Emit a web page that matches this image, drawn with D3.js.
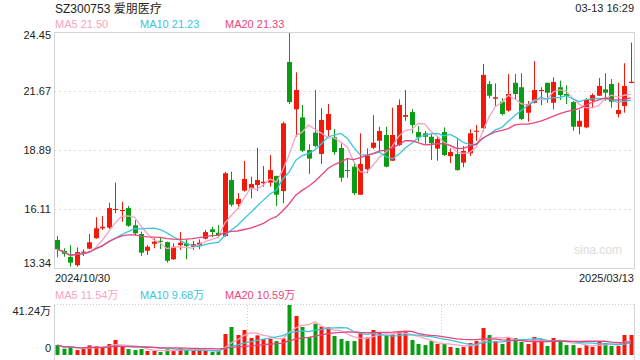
<!DOCTYPE html>
<html>
<head>
<meta charset="utf-8">
<script src="https://cdn.jsdelivr.net/npm/d3@7/dist/d3.min.js"></script>
<style>
  body { margin: 0; background: #fff; }
  svg { display: block; font-family: "Liberation Sans", Arial, "Noto Sans CJK SC", sans-serif; }
</style>
</head>
<body>
<div id="chart"></div>
<script>
// daily K line, 2024/10/30 .. 2025/03/13 (90 sessions)
const opens = [14.66,14.14,13.86,13.47,14.06,14.25,14.74,15.21,15.24,16.07, 16.02,16.16,15.35,14.94,14.15,14.48,14.62,14.56,13.75,14.42,
  14.50,14.34,14.41,14.72,15.16,15.00,14.85,17.48,16.35,16.98, 17.07,17.25,17.33,17.36,17.67,16.96,23.04,20.81,20.43,18.89,
  19.71,18.71,19.84,19.49,18.99,17.95,18.11,16.79,17.99,19.00, 19.33,19.60,18.39,19.13,20.46,20.68,19.74,19.68,19.52,18.96,
  19.74,18.61,18.71,18.30,18.74,19.78,19.92,22.00,21.31,21.17, 20.75,22.06,21.85,20.65,21.12,21.67,22.06,21.12,21.85,21.53,
  21.15,19.99,19.96,21.22,21.45,21.75,22.00,20.59,20.97,22.05];
const highs = [14.85,14.27,14.42,14.31,14.22,14.94,15.73,15.79,16.41,17.36, 16.46,16.26,15.60,15.05,14.42,14.74,14.77,14.58,14.50,15.03,
  14.69,14.62,14.69,15.13,15.28,15.36,17.87,17.87,16.86,18.38, 17.64,19.00,18.14,18.66,17.69,20.23,24.40,22.55,21.01,19.16,
  21.72,20.86,21.06,19.88,19.21,18.50,18.34,19.68,18.97,20.53, 19.99,19.99,20.89,21.28,21.72,20.82,20.02,19.79,19.65,19.55,
  19.96,18.97,19.40,19.08,19.87,20.07,22.94,22.14,22.03,21.33, 22.47,22.47,22.51,21.20,23.08,21.85,22.06,22.32,22.16,21.94,
  21.20,20.78,21.33,21.56,22.28,22.51,22.24,22.06,22.98,23.95];
const lows = [13.84,13.87,13.40,13.40,13.90,14.22,14.72,15.13,15.18,15.92, 15.52,15.28,14.85,13.90,13.95,14.27,14.23,13.59,13.72,14.19,
  13.75,14.19,14.22,14.69,14.79,14.74,14.81,16.23,16.12,16.93, 16.62,16.96,17.17,17.17,16.26,16.39,21.06,19.52,18.80,17.77,
  19.02,18.24,19.55,18.66,17.40,17.59,16.78,16.79,17.80,18.94, 18.81,18.08,18.38,19.08,20.27,19.68,19.29,19.18,18.42,18.39,
  18.61,18.27,17.92,18.08,18.61,19.33,19.76,21.33,20.97,20.53, 20.70,21.28,20.31,20.23,21.09,21.01,21.12,20.81,21.25,21.06,
  19.80,19.63,19.92,20.86,21.44,21.22,20.89,20.43,20.65,22.04];
const closes = [14.22,14.01,13.59,14.09,14.11,14.55,15.21,15.28,16.16,16.12, 16.07,15.33,14.97,14.06,14.34,14.58,14.60,13.68,14.34,14.53,
  14.38,14.46,14.53,15.03,15.03,14.88,17.80,16.32,16.59,17.53, 17.29,17.48,17.40,17.95,16.79,20.15,21.15,21.72,18.86,18.49,
  19.08,20.31,20.59,18.80,17.59,17.91,16.86,18.24,18.63,19.24, 19.79,18.11,19.60,21.01,20.54,20.07,19.49,19.52,19.21,19.41,
  18.66,18.80,17.95,18.85,19.68,19.80,22.43,21.45,21.38,20.59, 21.53,21.53,20.35,21.06,21.72,21.72,21.59,22.10,21.48,21.44,
  19.99,20.27,21.25,21.48,21.91,21.59,21.17,20.78,21.91,22.11];
// volume, 万手
const volumes = [8.2,5.2,6.6,4.1,4.9,8.0,7.2,6.3,9.1,12.4, 6.9,4.9,4.1,4.9,3.3,3.3,2.5,4.7,4.1,5.5,
  4.1,3.3,3.3,3.8,2.5,3.3,17.3,23.1,16.5,20.6, 14.0,16.2,13.2,13.2,11.5,13.7,41.24,32.2,23.1,14.6,
  25.8,23.4,22.8,15.7,13.2,11.5,11.5,17.3,14.6,20.6, 18.7,15.9,16.8,19.5,19.5,12.4,9.1,8.2,11.5,9.1,
  9.1,6.6,5.8,6.6,9.9,11.5,22.3,16.5,11.5,9.1, 14.0,14.0,10.7,9.1,14.8,13.2,7.4,14.0,11.5,8.2,
  8.2,5.8,8.2,6.6,11.5,9.9,7.4,7.4,16.5,16.5];

const priceTicks = [13.34, 16.11, 18.89, 21.67, 24.45];
const volTickLabels = ['0', '41.24万'];
const dateLabels = ['2024/10/30', '2025/03/13'];
const maPeriods = [5, 10, 20];
const maNames = ['MA5', 'MA10', 'MA20'];
const maPriceText = ['21.50', '21.23', '21.33'];
const maVolText = ['11.54万', '9.68万', '10.59万'];
const titleText = 'SZ300753 爱朋医疗';
const timeText = '03-13 16:29';

const maColors = ['#f7a3c3', '#3cc3de', '#e9457d'];
const upColor = '#f2180a', downColor = '#0a9d14';
const L = 54, R = 634;

const svg = d3.select('#chart').append('svg').attr('width', 640).attr('height', 360);

const x = d3.scaleBand().domain(d3.range(closes.length)).range([L, R])
  .paddingInner(0.25).paddingOuter(0.125);
const xc = i => x(i) + x.bandwidth() / 2;
const yP = d3.scaleLinear().domain([13.34, 24.45]).range([268, 32]);
const yV = d3.scaleLinear().domain([0, 41.24]).range([355, 305]);

function movingAvg(vals, n) {
  return vals.map((v, i) => d3.mean(vals.slice(Math.max(0, i - n + 1), i + 1)));
}
const isUp = i => closes[i] >= opens[i];

// headers
svg.append('text').attr('x', 55).attr('y', 13).attr('font-size', 12).attr('fill', '#222').text(titleText);
svg.append('text').attr('x', R).attr('y', 12).attr('text-anchor', 'end').attr('font-size', 11).attr('fill', '#222').text(timeText);
const legX = [55, 140, 225];
maNames.forEach((n, k) => {
  svg.append('text').attr('x', legX[k]).attr('y', 28).attr('font-size', 11).attr('fill', maColors[k]).text(n + ' ' + maPriceText[k]);
  svg.append('text').attr('x', legX[k]).attr('y', 299).attr('font-size', 11).attr('fill', maColors[k]).text(n + ' ' + maVolText[k]);
});

// price panel grid + frame
svg.append('g').selectAll('line').data(priceTicks.slice(1, -1)).join('line')
  .attr('x1', L).attr('x2', R)
  .attr('y1', d => Math.round(yP(d)) + 0.5).attr('y2', d => Math.round(yP(d)) + 0.5)
  .attr('stroke', '#ddd').attr('stroke-dasharray', '2,3');
svg.append('rect').attr('x', L + 0.5).attr('y', 32.5).attr('width', R - L).attr('height', 236)
  .attr('fill', 'none').attr('stroke', '#d4d4d4');
svg.append('g').selectAll('text').data(priceTicks).join('text')
  .attr('x', 51).attr('text-anchor', 'end').attr('font-size', 11).attr('fill', '#222')
  .attr('y', d => Math.min(267, Math.max(39, yP(d) + 4)))
  .text(d => d.toFixed(2));

svg.append('text').attr('x', R - 12).attr('y', 254).attr('text-anchor', 'end')
  .attr('font-size', 12).attr('fill', '#dcdcdc').text('sina.com');

// candles
const cg = svg.append('g');
d3.range(closes.length).forEach(i => {
  const col = isUp(i) ? upColor : downColor;
  const cx = Math.round(xc(i)) + 0.5;
  cg.append('line').attr('x1', cx).attr('x2', cx).attr('y1', yP(highs[i])).attr('y2', yP(lows[i]))
    .attr('stroke', col).attr('stroke-width', 1);
  const top = yP(Math.max(opens[i], closes[i])), bot = yP(Math.min(opens[i], closes[i]));
  cg.append('rect').attr('x', cx - 2.5).attr('width', 5)
    .attr('y', top).attr('height', Math.max(1, bot - top)).attr('fill', col);
});

const line = d3.line().x((d, i) => xc(i));
maPeriods.forEach((p, k) => {
  svg.append('path').datum(movingAvg(closes, p))
    .attr('d', line.y(d => yP(d))).attr('fill', 'none')
    .attr('stroke', maColors[k]).attr('stroke-width', 1.3);
});

// date labels
svg.append('text').attr('x', 55).attr('y', 282).attr('font-size', 11).attr('fill', '#222').text(dateLabels[0]);
svg.append('text').attr('x', R).attr('y', 282).attr('text-anchor', 'end').attr('font-size', 11).attr('fill', '#222').text(dateLabels[1]);

// volume panel
svg.append('line').attr('x1', L).attr('x2', R).attr('y1', 304.5).attr('y2', 304.5)
  .attr('stroke', '#ccc').attr('stroke-dasharray', '1,2');
[30, 60].forEach(i => {
  const vx = Math.round(x.range()[0] + x.step() * i) + 0.5;
  svg.append('line').attr('x1', vx).attr('x2', vx).attr('y1', 305).attr('y2', 356)
    .attr('stroke', '#ccc').attr('stroke-dasharray', '1,2');
});
[L + 0.5, R + 0.5].forEach(vx => {
  svg.append('line').attr('x1', vx).attr('x2', vx).attr('y1', 304).attr('y2', 360).attr('stroke', '#d4d4d4');
});
svg.append('text').attr('x', 51).attr('y', 315).attr('text-anchor', 'end').attr('font-size', 11).attr('fill', '#222').text(volTickLabels[1]);
svg.append('text').attr('x', 51).attr('y', 352).attr('text-anchor', 'end').attr('font-size', 11).attr('fill', '#222').text(volTickLabels[0]);

svg.append('g').selectAll('rect').data(volumes).join('rect')
  .attr('x', (d, i) => Math.round(xc(i)) - 1.5).attr('width', 4)
  .attr('y', d => yV(d)).attr('height', d => yV(0) - yV(d))
  .attr('fill', (d, i) => isUp(i) ? upColor : downColor);

maPeriods.forEach((p, k) => {
  svg.append('path').datum(movingAvg(volumes, p))
    .attr('d', line.y(d => yV(d))).attr('fill', 'none')
    .attr('stroke', maColors[k]).attr('stroke-width', 1.3);
});
</script>
</body>
</html>
